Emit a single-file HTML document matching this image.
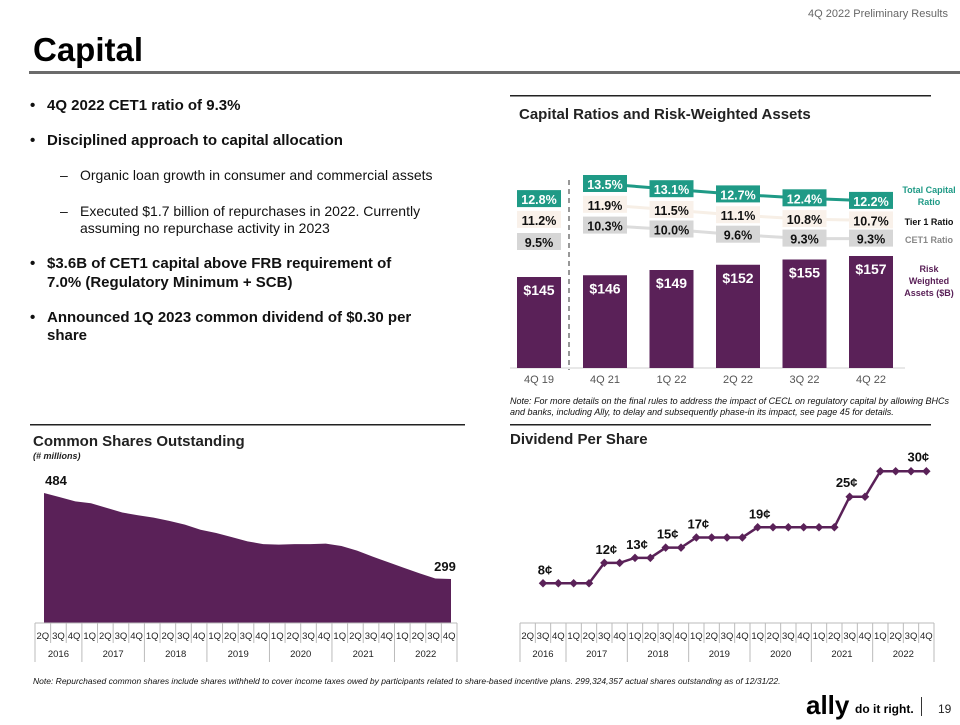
<!DOCTYPE html>
<html><head><meta charset="utf-8"><style>
body{margin:0;width:960px;height:720px;background:#fff;overflow:hidden;font-family:"Liberation Sans",sans-serif}
svg text{font-family:"Liberation Sans",sans-serif}
</style></head><body>
<svg id="s" width="960" height="720" viewBox="0 0 960 720">
<text x="948" y="17" font-size="11" fill="#666" text-anchor="end">4Q 2022 Preliminary Results</text>
<text x="33" y="61" font-size="33" font-weight="bold" fill="#000">Capital</text>
<rect x="29" y="71" width="931" height="3" fill="#6b6b6b"/>
<g font-size="15" font-weight="bold" fill="#111">
<text x="30" y="110">•</text><text x="47" y="110">4Q 2022 CET1 ratio of 9.3%</text>
<text x="30" y="145">•</text><text x="47" y="145">Disciplined approach to capital allocation</text>
<text x="60" y="180" font-weight="normal" font-size="14">–</text><text x="80" y="180" font-weight="normal" font-size="14">Organic loan growth in consumer and commercial assets</text>
<text x="60" y="216" font-weight="normal" font-size="14">–</text><text x="80" y="216" font-weight="normal" font-size="14">Executed $1.7 billion of repurchases in 2022. Currently</text>
<text x="80" y="233" font-weight="normal" font-size="14">assuming no repurchase activity in 2023</text>
<text x="30" y="268">•</text><text x="47" y="268">$3.6B of CET1 capital above FRB requirement of</text>
<text x="47" y="287">7.0% (Regulatory Minimum + SCB)</text>
<text x="30" y="322">•</text><text x="47" y="322">Announced 1Q 2023 common dividend of $0.30 per</text>
<text x="47" y="340">share</text>
</g>
<rect x="510" y="95" width="421" height="1.5" fill="#222"/>
<text x="519" y="119" font-size="15" font-weight="bold" fill="#222">Capital Ratios and Risk-Weighted Assets</text>
<g id="cap"></g>
<text x="510" y="404" font-size="9" font-style="italic" fill="#111">Note: For more details on the final rules to address the impact of CECL on regulatory capital by allowing BHCs</text>
<text x="510" y="415" font-size="9" font-style="italic" fill="#111">and banks, including Ally, to delay and subsequently phase-in its impact, see page 45 for details.</text>
<rect x="30" y="424" width="435" height="1.5" fill="#222"/>
<rect x="510" y="424" width="421" height="1.5" fill="#222"/>
<text x="33" y="446" font-size="15" font-weight="bold" fill="#222">Common Shares Outstanding</text>
<text x="33" y="459" font-size="9" font-weight="bold" font-style="italic" fill="#222">(# millions)</text>
<text x="510" y="444" font-size="15" font-weight="bold" fill="#222">Dividend Per Share</text>
<g id="sh"></g>
<g id="dv"></g>
<text x="33" y="684" font-size="8.5" font-style="italic" fill="#111">Note: Repurchased common shares include shares withheld to cover income taxes owed by participants related to share-based incentive plans. 299,324,357 actual shares outstanding as of 12/31/22.</text>
<text x="806" y="714" font-size="26" font-weight="bold" fill="#000">ally</text>
<text x="855" y="713" font-size="12" font-weight="bold" fill="#000">do it right.</text>
<rect x="921" y="697" width="1" height="19" fill="#333"/>
<text x="938" y="713" font-size="12" fill="#222">19</text>
</svg>
<script>
const NS="http://www.w3.org/2000/svg";
function mk(p,t,a,txt){const e=document.createElementNS(NS,t);for(const k in a)e.setAttribute(k,a[k]);if(txt!==undefined)e.textContent=txt;p.appendChild(e);return e;}

const capCats=["4Q 19","4Q 21","1Q 22","2Q 22","3Q 22","4Q 22"];
const rwa=[145,146,149,152,155,157];
const totalCap=[12.8,13.5,13.1,12.7,12.4,12.2];
const tier1=[11.2,11.9,11.5,11.1,10.8,10.7];
const cet1=[9.5,10.3,10.0,9.6,9.3,9.3];
const quarters=["2Q","3Q","4Q","1Q","2Q","3Q","4Q","1Q","2Q","3Q","4Q","1Q","2Q","3Q","4Q","1Q","2Q","3Q","4Q","1Q","2Q","3Q","4Q","1Q","2Q","3Q","4Q"];
const years=["2016","2017","2018","2019","2020","2021","2022"];
const shares=[484,475,466,462,452,442,436,431,424,416,405,398,389,380,374,373,374,374,375,370,360,347,335,323,311,300,299];
const dividends=[8,8,8,8,12,12,13,13,15,15,17,17,17,17,19,19,19,19,19,19,25,25,30,30,30,30];
const divLabels={0:"8¢",4:"12¢",6:"13¢",8:"15¢",10:"17¢",14:"19¢",20:"25¢",25:"30¢"};

const cap=document.getElementById('cap');
const barY=v=>277-(v-145)*1.75;
const ratioY=v=>184+(13.5-v)*13;
const base=368;
let ln=mk(cap,'line',{x1:510,y1:base,x2:905,y2:base,stroke:'#d0d0d0','stroke-width':1});

let dl=mk(cap,'line',{x1:569,y1:180,x2:569,y2:370,stroke:'#777','stroke-width':1.5,'stroke-dasharray':'5,4'});

const cx=i=>i===0?539:605+(i-1)*66.5;
rwa.forEach((v,i)=>{
  const r=mk(cap,'rect',{x:cx(i)-22,y:barY(v),width:44,height:base-barY(v),fill:'#5a2158'});
  
  const t=mk(cap,'text',{x:cx(i),y:barY(v)+18,'font-size':14,'font-weight':'bold',fill:'#fff','text-anchor':'middle'},'$'+v);
  
});
const series=[[totalCap,'#1f9a86','#1f9a86','#fff','total-capital'],[tier1,'#f7efe6','#f9f1ea','#111','tier1'],[cet1,'#dcdcdc','#d6d6d6','#111','cet1']];
series.forEach(([vals,lc,bc,tc,nm])=>{
  let d='';vals.forEach((v,i)=>{if(i>0)d+=(i===1?'M':'L')+cx(i)+','+ratioY(v);});
  const p=mk(cap,'path',{d:d,fill:'none',stroke:lc,'stroke-width':3});
  
  vals.forEach((v,i)=>{
    const y=ratioY(v)+(i===0?6:0);
    const b=mk(cap,'rect',{x:cx(i)-22,y:y-9,width:44,height:17,fill:bc});
    
    const t=mk(cap,'text',{x:cx(i),y:y+5,'font-size':12.5,'font-weight':'bold',fill:tc,'text-anchor':'middle'},v.toFixed(1)+'%');
    
  });
});
capCats.forEach((c,i)=>{const t=mk(cap,'text',{x:cx(i),y:383,'font-size':11,fill:'#555','text-anchor':'middle'},c);
  });
[["Total Capital",193,'#1f9a86'],["Ratio",205,'#1f9a86'],["Tier 1 Ratio",225,'#111'],["CET1 Ratio",243,'#888'],["Risk",272,'#5a2158'],["Weighted",284,'#5a2158'],["Assets ($B)",296,'#5a2158']].forEach(([s,y,c])=>{
  const t=mk(cap,'text',{x:929,y:y,'font-size':9,'font-weight':'bold',fill:c,'text-anchor':'middle'},s);
  });

function axisTable(g,x0,cw,top,prefix){
  const n=quarters.length,h=39;
  const hl=mk(g,'line',{x1:x0,y1:top,x2:x0+n*cw,y2:top,stroke:'#bbb'});
  
  quarters.forEach((q,i)=>{
    const x=x0+i*cw;
    const yr=(q==="1Q"||i===0);
    const l=mk(g,'line',{x1:x,y1:top,x2:x,y2:top+(yr?h:20),stroke:'#bbb'});
    
    const t=mk(g,'text',{x:x+cw/2,y:top+16,'font-size':9.5,fill:'#222','text-anchor':'middle'},q);
    
  });
  const l=mk(g,'line',{x1:x0+n*cw,y1:top,x2:x0+n*cw,y2:top+h,stroke:'#bbb'});
  
  years.forEach((y,j)=>{const s=j===0?0:3+(j-1)*4,e=j===0?3:s+4;
    const t=mk(g,'text',{x:x0+(s+e)/2*cw,y:top+34,'font-size':9.5,fill:'#222','text-anchor':'middle'},y);
    });
}
const sh=document.getElementById('sh');
const sx0=35,scw=(457-35)/27;
const sX=i=>44+i*(451-44)/26;
const sY=v=>579-(v-299)*0.465;
const sBase=623;
let sd='M'+sX(0)+','+sBase;
shares.forEach((v,i)=>{sd+=' L'+sX(i)+','+sY(v);});
sd+=' L'+sX(26)+','+sBase+'Z';
const ar=mk(sh,'path',{d:sd,fill:'#5a2158'});

let t1=mk(sh,'text',{x:sX(0)+12,y:sY(shares[0])-8,'font-size':13,'font-weight':'bold',fill:'#111','text-anchor':'middle'},shares[0]);

let t2=mk(sh,'text',{x:sX(26)-6,y:sY(shares[26])-8,'font-size':13,'font-weight':'bold',fill:'#111','text-anchor':'middle'},shares[26]);

axisTable(sh,sx0,scw,623,'shares');

const dv=document.getElementById('dv');
const dx0=520,dcw=(934-520)/27;
const dX=i=>dx0+(i+1.5)*dcw;
const dY=v=>624-v*5.09;
let dd='';dividends.forEach((v,i)=>{dd+=(i?'L':'M')+dX(i)+','+dY(v);});
const dp=mk(dv,'path',{d:dd,fill:'none',stroke:'#5a2158','stroke-width':2.5});

dividends.forEach((v,i)=>{
  const m=mk(dv,'rect',{x:dX(i)-3,y:dY(v)-3,width:6,height:6,fill:'#5a2158',transform:`rotate(45 ${dX(i)} ${dY(v)})`});
  
  if(divLabels[i]){const t=mk(dv,'text',{x:dX(i)+(i===25?-8:(i===20?-3:2)),y:dY(v)-(i===20||i===25?10:9),'font-size':13,'font-weight':'bold',fill:'#111','text-anchor':'middle'},divLabels[i]);
    }
});
axisTable(dv,dx0,dcw,623,'dividend');
</script>
</body></html>
